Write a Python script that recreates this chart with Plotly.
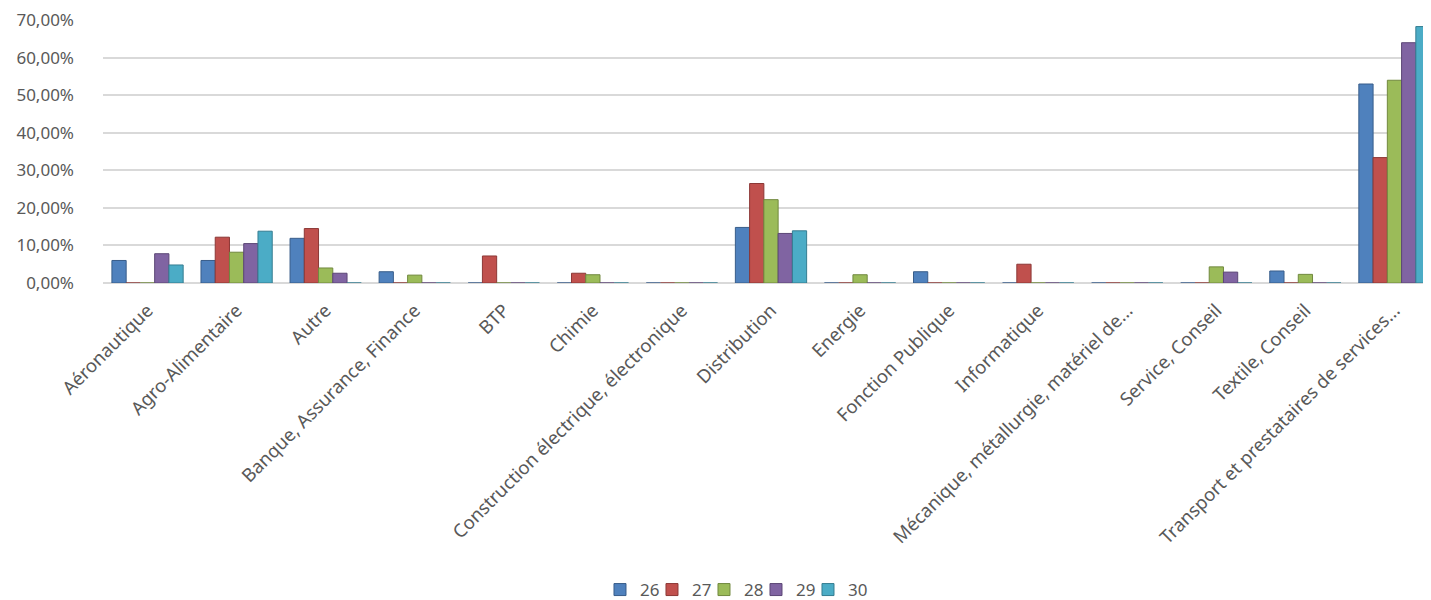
import plotly.graph_objects as go

# secteurs d'activité
categories = [
    "Aéronautique", "Agro-Alimentaire", "Autre", "Banque, Assurance, Finance", "BTP",
    "Chimie", "Construction électrique, électronique", "Distribution", "Energie",
    "Fonction Publique", "Informatique", "Mécanique, métallurgie, matériel de...",
    "Service, Conseil", "Textile, Conseil", "Transport et prestataires de services...",
]

# values (fractions)
s26 = [0.060, 0.060, 0.119, 0.030, 0.000, 0.000, 0.000, 0.148, 0.000, 0.030, 0.000, 0.000, 0.000, 0.032, 0.530]
s27 = [0.000, 0.122, 0.145, 0.000, 0.072, 0.026, 0.000, 0.265, 0.000, 0.000, 0.050, 0.000, 0.000, 0.000, 0.334]
s28 = [0.000, 0.082, 0.040, 0.021, 0.000, 0.022, 0.000, 0.222, 0.022, 0.000, 0.000, 0.000, 0.043, 0.023, 0.540]
s29 = [0.078, 0.105, 0.026, 0.000, 0.000, 0.000, 0.000, 0.132, 0.000, 0.000, 0.000, 0.000, 0.029, 0.000, 0.640]
s30 = [0.048, 0.138, 0.000, 0.000, 0.000, 0.000, 0.000, 0.139, 0.000, 0.000, 0.000, 0.000, 0.000, 0.000, 0.683]

y_ticks = [0, 0.1, 0.2, 0.3, 0.4, 0.5, 0.6, 0.7]

series = [
    ("26", s26, "#4F81BD", "#385D8A"),
    ("27", s27, "#C0504D", "#8C3836"),
    ("28", s28, "#9BBB59", "#71893F"),
    ("29", s29, "#8064A2", "#5C4776"),
    ("30", s30, "#4BACC6", "#357D91"),
]

fig = go.Figure()
for i, (name, vals, col, edge) in enumerate(series):
    # tight legend entries; last one wider so its text is not clipped
    lw = 7 if i < len(series) - 1 else 30
    fig.add_trace(go.Bar(x=categories, y=vals, name=name, legendwidth=lw,
                         marker=dict(color=col, line=dict(color=edge, width=1))))

# the page adds an 8px body margin, so margins are shifted to compensate
fig.update_layout(
    width=1431, height=600,
    margin=dict(l=95, r=0, t=12, b=325),
    plot_bgcolor="white", paper_bgcolor="white",
    separators=", ",
    font=dict(family="Noto Sans, Open Sans, sans-serif", color="#595959", size=17),
    barmode="group", bargap=0.2, bargroupgap=0,
    showlegend=True,
    legend=dict(orientation="h", x=0.372, xanchor="left", y=0.03, yref="container",
                yanchor="middle", font=dict(size=17), traceorder="normal",
                itemwidth=30),
)
fig.update_xaxes(tickangle=-45, showgrid=False, showline=False, ticks="",
                 tickfont=dict(size=18.5), ticklabelstandoff=12)
fig.update_yaxes(range=[0, 0.7005], tickmode="array", tickvals=y_ticks,
                 tickformat=".2%", gridcolor="#D9D9D9",
                 gridwidth=1.5, zeroline=True, zerolinecolor="#D9D9D9", showline=False,
                 ticklabelstandoff=28, tickfont=dict(size=17))

fig.write_html("out.html")
